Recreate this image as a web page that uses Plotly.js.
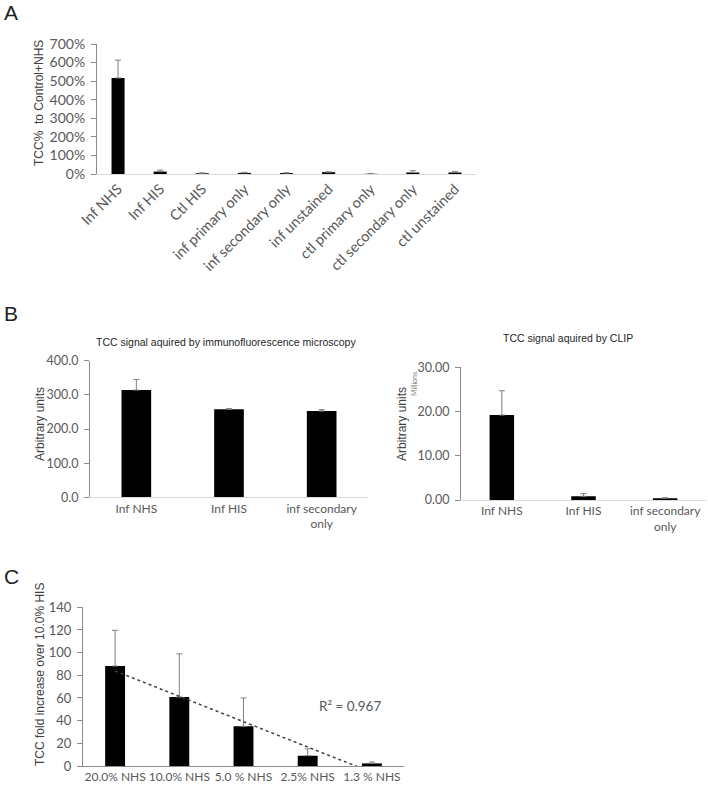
<!DOCTYPE html>
<html><head><meta charset="utf-8">
<script src="https://cdn.plot.ly/plotly-3.0.1.min.js"></script>
<style>html,body{margin:0;padding:0;background:#fff}</style>
</head><body><div id="chart" style="width:708px;height:790px"></div>
<script>
// Panel A
const catsA = ['Inf NHS','Inf HIS','Ctl HIS','inf primary only','inf secondary only','inf unstained','ctl primary only','ctl secondary only','ctl unstained'];
const valsA = [517, 13, 4, 6, 5, 10, 1, 8, 8];
const errA  = [96, 8, 2, 3, 2, 2, 2, 10, 6];
// Panel B
const catsB = ['Inf NHS','Inf HIS','inf secondary<br>only'];
const valsBmic = [314, 257.7, 252.7];
const errBmic  = [31, 2, 4];
const valsBclip = [19.2, 0.84, 0.38];   // millions
const errBclip  = [5.5, 0.6, 0.15];
// Panel C
const catsC = ['20.0% NHS','10.0% NHS','5.0 % NHS','2.5% NHS','1.3 % NHS'];
const valsC = [88.2, 60.9, 35, 9.1, 2.3];
const errC  = [31.5, 38, 25, 6, 1.2];

const W = 708, H = 790;
const dx = (a,b) => [a/W, b/W];
const dy = (top,bot) => [1-bot/H, 1-top/H];

const tickGray = '#595959';
const errCol = '#808080';
const tickFontFam = 'Lato, "Open Sans", sans-serif';
const titleFam = '"Liberation Sans", Arial, sans-serif';

function errObj(arr){
  return {type:'data', symmetric:false, array:arr, arrayminus:arr.map(()=>0),
          color:errCol, thickness:1, width:3};
}

// linear trendline for panel C (least squares on category index)
const xsC = catsC.map((_,i)=>i+1);
const n = xsC.length;
const mx = xsC.reduce((s,v)=>s+v,0)/n, my = valsC.reduce((s,v)=>s+v,0)/n;
let sxy=0, sxx=0;
for(let i=0;i<n;i++){ sxy += (xsC[i]-mx)*(valsC[i]-my); sxx += (xsC[i]-mx)**2; }
const slope = sxy/sxx, icpt = my - slope*mx;
const trendX = [xsC[0], xsC[n-1]];
const trendY = trendX.map(x=>icpt+slope*x);

const traces = [
  {type:'bar', x:catsA, y:valsA, xaxis:'x', yaxis:'y', width:0.31,
   marker:{color:'#000'}, error_y:errObj(errA), hoverinfo:'skip'},
  {type:'bar', x:catsB, y:valsBmic, xaxis:'x2', yaxis:'y2', width:0.32,
   marker:{color:'#000'}, error_y:errObj(errBmic), hoverinfo:'skip'},
  {type:'bar', x:catsB, y:valsBclip, xaxis:'x3', yaxis:'y3', width:0.3,
   marker:{color:'#000'}, error_y:errObj(errBclip), hoverinfo:'skip'},
  {type:'bar', x:catsC, y:valsC, xaxis:'x4', yaxis:'y4', width:0.31,
   marker:{color:'#000'}, error_y:errObj(errC), hoverinfo:'skip'},
  {type:'scatter', mode:'lines', x:trendX, y:trendY, xaxis:'x5', yaxis:'y4',
   line:{color:'#404040', width:1.5, dash:'dot'}, hoverinfo:'skip'}
];

function xAx(dom, anchor, size, extra){
  return Object.assign({domain:dom, anchor:anchor, type:'category', showgrid:false, zeroline:false,
    showline:true, linecolor:'#d9d9d9', linewidth:1, ticks:'', fixedrange:true, tickangle:0,
    tickfont:{family:tickFontFam, size:size, color:tickGray}}, extra||{});
}
function yAx(dom, anchor, range, dtick, size, extra){
  return Object.assign({domain:dom, anchor:anchor, range:range, dtick:dtick, showgrid:false, zeroline:false,
    showline:true, linecolor:'#8c8c8c', linewidth:1, ticks:'outside', ticklen:5, tickcolor:'#8c8c8c',
    fixedrange:true, ticklabelstandoff:3,
    tickfont:{family:tickFontFam, size:size, color:tickGray}}, extra||{});
}

const layout = {
  width:W, height:H, margin:{l:0,r:0,t:0,b:0}, showlegend:false,
  paper_bgcolor:'#fff', plot_bgcolor:'#fff',
  xaxis: xAx(dx(97,476),'y',14.5,{tickangle:-45}),
  yaxis: yAx(dy(44,174),'x',[0,700],100,14,{ticksuffix:'%'}),
  xaxis2: xAx(dx(90,368),'y2',12),
  yaxis2: yAx(dy(360.7,497.3),'x2',[0,400],100,12.5,{tickformat:'.1f'}),
  xaxis3: xAx(dx(461,706),'y3',12),
  yaxis3: yAx(dy(367.3,500),'x3',[0,30],10,12.5,{tickformat:'.2f'}),
  xaxis4: xAx(dx(83,404),'y4',12,{linecolor:'#8c8c8c'}),
  yaxis4: yAx(dy(607.3,766),'x4',[0,140],20,13),
  xaxis5: {domain:dx(83,404), anchor:'y4', overlaying:'x4', range:[0.5,5.5], visible:false, fixedrange:true},
  annotations: [
    {text:'A', x:10.5/W, y:1-12.5/H, xref:'paper', yref:'paper', showarrow:false, xanchor:'center', yanchor:'middle',
     font:{family:titleFam, size:21, color:'#222'}},
    {text:'B', x:10.5/W, y:1-313.5/H, xref:'paper', yref:'paper', showarrow:false, xanchor:'center', yanchor:'middle',
     font:{family:titleFam, size:21, color:'#222'}},
    {text:'C', x:11/W, y:1-576/H, xref:'paper', yref:'paper', showarrow:false, xanchor:'center', yanchor:'middle',
     font:{family:titleFam, size:21, color:'#222'}},
    {text:'TCC%  to Control+NHS', x:39/W, y:1-103/H, xref:'paper', yref:'paper', showarrow:false, textangle:-90,
     xanchor:'center', yanchor:'middle', font:{family:titleFam, size:12, color:'#404040'}},
    {text:'TCC signal aquired by immunofluorescence microscopy', x:226/W, y:1-342/H, xref:'paper', yref:'paper',
     showarrow:false, xanchor:'center', yanchor:'middle', font:{family:titleFam, size:10.5, color:'#262626'}},
    {text:'TCC signal aquired by CLIP', x:568/W, y:1-338/H, xref:'paper', yref:'paper',
     showarrow:false, xanchor:'center', yanchor:'middle', font:{family:titleFam, size:10.5, color:'#262626'}},
    {text:'Arbitrary units', x:40/W, y:1-424/H, xref:'paper', yref:'paper', showarrow:false, textangle:-90,
     xanchor:'center', yanchor:'middle', font:{family:titleFam, size:12, color:'#404040'}},
    {text:'Arbitrary units', x:402/W, y:1-424/H, xref:'paper', yref:'paper', showarrow:false, textangle:-90,
     xanchor:'center', yanchor:'middle', font:{family:titleFam, size:12, color:'#404040'}},
    {text:'Millions', x:414/W, y:1-384/H, xref:'paper', yref:'paper', showarrow:false, textangle:-90,
     xanchor:'center', yanchor:'middle', font:{family:tickFontFam, size:7, color:'#7f7f7f'}},
    {text:'TCC fold increase over 10.0% HIS', x:40/W, y:1-675/H, xref:'paper', yref:'paper', showarrow:false, textangle:-90,
     xanchor:'center', yanchor:'middle', font:{family:titleFam, size:12, color:'#404040'}},
    {text:'R² = 0.967', x:350/W, y:1-706/H, xref:'paper', yref:'paper', showarrow:false,
     xanchor:'center', yanchor:'middle', font:{family:tickFontFam, size:13.5, color:tickGray}}
  ]
};

Plotly.newPlot('chart', traces, layout, {displayModeBar:false, staticPlot:true});
</script></body></html>
